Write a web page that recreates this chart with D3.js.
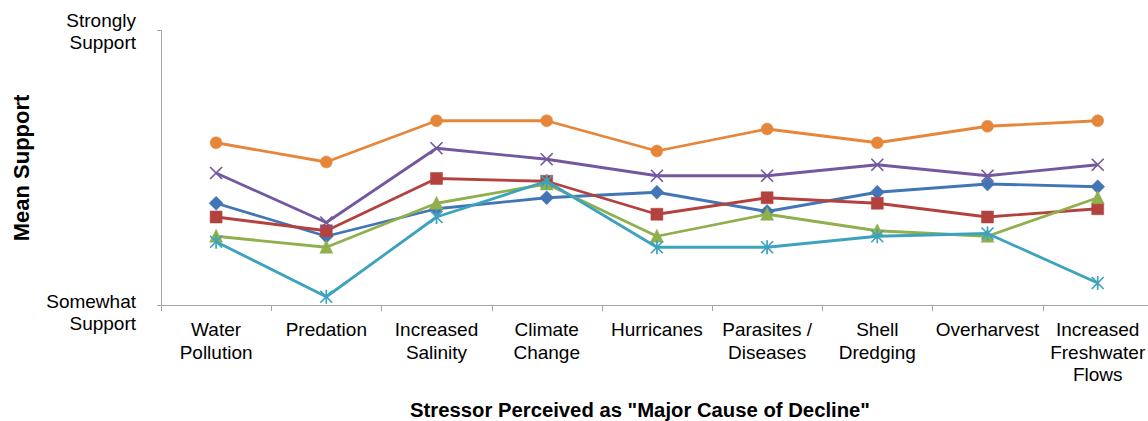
<!DOCTYPE html>
<html>
<head>
<meta charset="utf-8">
<script src="https://cdn.jsdelivr.net/npm/d3@7/dist/d3.min.js"></script>
<style>
  html, body { margin: 0; padding: 0; background: #fff; }
  svg { display: block; font-family: "Liberation Sans", Arial, sans-serif; }
</style>
</head>
<body>
<svg id="chart" width="1148" height="421"></svg>
<script>
// stressors on the x axis
const categories = [
  'Water\nPollution', 'Predation', 'Increased\nSalinity', 'Climate\nChange', 'Hurricanes',
  'Parasites /\nDiseases', 'Shell\nDredging', 'Overharvest', 'Increased\nFreshwater\nFlows'
]

// mean support per group (4 = somewhat support, 5 = strongly support)
const seriesBlue = [4.37, 4.25, 4.35, 4.39, 4.41, 4.34, 4.41, 4.44, 4.43]
const seriesRed = [4.32, 4.27, 4.46, 4.45, 4.33, 4.39, 4.37, 4.32, 4.35]
const seriesGreen = [4.25, 4.21, 4.37, 4.44, 4.25, 4.33, 4.27, 4.25, 4.39]
const seriesPurple = [4.48, 4.30, 4.57, 4.53, 4.47, 4.47, 4.51, 4.47, 4.51]
const seriesTeal = [4.23, 4.03, 4.32, 4.45, 4.21, 4.21, 4.25, 4.26, 4.08]
const seriesOrange = [4.59, 4.52, 4.67, 4.67, 4.56, 4.64, 4.59, 4.65, 4.67]

const yTicks = [4, 5]
const yTickLabels = ['Somewhat\nSupport', 'Strongly\nSupport']

const series = [
  { values: seriesBlue, color: '#4275b5', marker: 'diamond' },
  { values: seriesRed, color: '#b3423f', marker: 'square' },
  { values: seriesGreen, color: '#8fb04c', marker: 'triangle' },
  { values: seriesPurple, color: '#7358a0', marker: 'x' },
  { values: seriesTeal, color: '#3ca2bd', marker: 'star' },
  { values: seriesOrange, color: '#e6863b', marker: 'circle' }
]

const margin = { left: 161, top: 30, bottom: 305 }
const bandWidth = 110.2
const axisColor = '#a6a6a6'

const svg = d3.select('#chart')

const x = d3.scaleBand()
  .domain(categories)
  .range([margin.left, margin.left + bandWidth * categories.length])

const y = d3.scaleLinear()
  .domain([4, 5])
  .range([margin.bottom, margin.top])

const cx = c => x(c) + x.bandwidth() / 2

// axes
const axes = svg.append('g')
  .attr('stroke', axisColor)
  .attr('stroke-width', 1)
  .attr('shape-rendering', 'crispEdges')

axes.append('line')
  .attr('x1', margin.left + 0.5).attr('x2', margin.left + 0.5)
  .attr('y1', y(5)).attr('y2', y(4) + 6)

axes.append('line')
  .attr('x1', margin.left - 4).attr('x2', x.range()[1])
  .attr('y1', y(4) + 0.5).attr('y2', y(4) + 0.5)

axes.append('line')
  .attr('x1', margin.left - 4).attr('x2', margin.left)
  .attr('y1', y(5) + 0.5).attr('y2', y(5) + 0.5)

axes.selectAll('line.xtick')
  .data(categories.map(c => x(c)).concat([x.range()[1]]))
  .join('line')
  .attr('class', 'xtick')
  .attr('x1', d => Math.round(d) + 0.5).attr('x2', d => Math.round(d) + 0.5)
  .attr('y1', y(4)).attr('y2', y(4) + 6)

// y tick labels (excel pushes the bottom one a bit lower)
const yLab = svg.append('g')
  .attr('font-size', 19)
  .attr('fill', '#000')
  .attr('text-anchor', 'end')
  .selectAll('text')
  .data(yTicks)
  .join('text')
  .attr('transform', (d, i) => `translate(136,${y(d) + (i === 0 ? 3 : -3)})`)

yLab.selectAll('tspan')
  .data((d, i) => yTickLabels[i].split('\n'))
  .join('tspan')
  .attr('x', 0)
  .attr('y', (d, i) => i * 22)
  .text(d => d)

// x tick labels
const xLab = svg.append('g')
  .attr('font-size', 19)
  .attr('fill', '#000')
  .attr('text-anchor', 'middle')
  .selectAll('text')
  .data(categories)
  .join('text')
  .attr('transform', d => `translate(${cx(d)},336)`)

xLab.selectAll('tspan')
  .data(d => d.split('\n'))
  .join('tspan')
  .attr('x', 0)
  .attr('y', (d, i) => i * 22.5)
  .text(d => d)

// axis titles
svg.append('text')
  .attr('x', 640)
  .attr('y', 417)
  .attr('text-anchor', 'middle')
  .attr('font-size', 20.3)
  .attr('font-weight', 'bold')
  .text('Stressor Perceived as "Major Cause of Decline"')

svg.append('text')
  .attr('transform', 'translate(29,168) rotate(-90)')
  .attr('text-anchor', 'middle')
  .attr('font-size', 22)
  .attr('font-weight', 'bold')
  .text('Mean Support')

// marker shapes, roughly Excel-sized
function markerPath (type) {
  const s = 6
  switch (type) {
    case 'diamond': return `M0,${-s - 1}L${s + 1},0L0,${s + 1}L${-s - 1},0Z`
    case 'square': return `M${-s},${-s}H${s}V${s}H${-s}Z`
    case 'triangle': return `M0,${-s - 1}L${s + 0.5},${s}L${-s - 0.5},${s}Z`
    case 'x': return `M${-s},${-s}L${s},${s}M${s},${-s}L${-s},${s}`
    case 'star': return `M${-s},${-s}L${s},${s}M${s},${-s}L${-s},${s}M0,${-s - 1}V${s + 1}`
    default: return d3.symbol(d3.symbolCircle, Math.PI * s * s)()
  }
}

const line = d3.line()
  .x((d, i) => cx(categories[i]))
  .y(d => y(d))

const groups = svg.append('g')
  .selectAll('g')
  .data(series)
  .join('g')

groups.append('path')
  .attr('d', d => line(d.values))
  .attr('fill', 'none')
  .attr('stroke', d => d.color)
  .attr('stroke-width', 2.8)
  .attr('stroke-linejoin', 'round')

groups.each(function (s) {
  const stroked = s.marker === 'x' || s.marker === 'star'
  d3.select(this).selectAll('path.marker')
    .data(s.values)
    .join('path')
    .attr('class', 'marker')
    .attr('transform', (d, i) => `translate(${cx(categories[i])},${y(d)})`)
    .attr('d', markerPath(s.marker))
    .attr('fill', stroked ? 'none' : s.color)
    .attr('stroke', s.color)
    .attr('stroke-width', stroked ? 1.7 : 0.5)
})
</script>
</body>
</html>
